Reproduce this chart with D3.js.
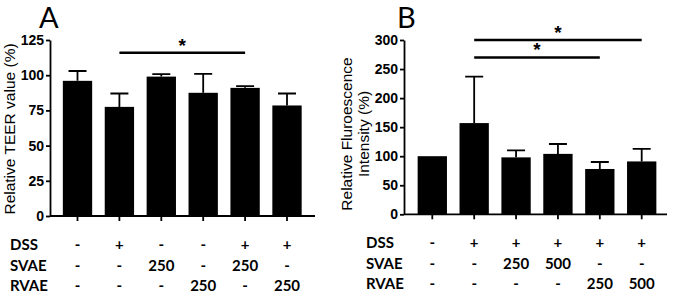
<!DOCTYPE html>
<html>
<head>
<meta charset="utf-8">
<script src="https://cdn.jsdelivr.net/npm/d3@7"></script>
<style>
  body { margin: 0; background: #fff; }
  svg text { fill: #000; }
</style>
</head>
<body>
<div id="chart"></div>
<script>
// panel A: TEER
const dssA = ["-", "+", "-", "-", "+", "+"];
const svaeA = ["-", "-", "250", "-", "250", "-"];
const rvaeA = ["-", "-", "-", "250", "-", "250"];
const teerMean = [96, 77.5, 99, 87.5, 91, 78.5];
const teerSd = [7, 9.5, 1.8, 13.5, 1.3, 8.5];
const teerTicks = [0, 25, 50, 75, 100, 125];

// panel B: fluorescence
const dssB = ["-", "+", "+", "+", "+", "+"];
const svaeB = ["-", "-", "250", "500", "-", "-"];
const rvaeB = ["-", "-", "-", "-", "250", "500"];
const fluoMean = [100, 157, 98, 104, 78, 91];
const fluoSd = [0, 80, 12, 17, 12, 21.5];
const fluoTicks = [0, 50, 100, 150, 200, 250, 300];

// significance brackets: [from, to, level]
const sigA = [[1, 4, 116]];
const sigB = [[1, 5, 300], [1, 4, 270]];

const svg = d3.select("#chart").append("svg")
    .attr("width", 674)
    .attr("height", 295);

const axisFont = "'Liberation Sans', Arial, sans-serif";
const tableFont = "Lato, 'Open Sans', sans-serif";

function panel(opt) {
    const g = svg.append("g");
    const n = opt.mean.length;

    const x = d3.scalePoint()
        .domain(d3.range(n))
        .range(opt.xr);
    const bw = x.step() * 0.7;

    const y = d3.scaleLinear()
        .domain([0, opt.ticks[opt.ticks.length - 1]])
        .range(opt.yr);

    // bars
    g.selectAll(".bar")
        .data(opt.mean)
        .enter().append("rect")
        .attr("class", "bar")
        .attr("x", (d, i) => x(i) - bw / 2)
        .attr("y", d => y(d))
        .attr("width", bw)
        .attr("height", d => y(0) - y(d))
        .style("fill", "#000");

    // error bars
    const err = opt.mean.map((m, i) => ({ i: i, m: m, s: opt.sd[i] })).filter(d => d.s > 0);
    g.selectAll(".err")
        .data(err)
        .enter().append("path")
        .attr("class", "err")
        .attr("d", d => `M${x(d.i)},${y(d.m)}V${y(d.m + d.s)}M${x(d.i) - 9},${y(d.m + d.s)}H${x(d.i) + 9}`)
        .style("stroke", "#000")
        .style("stroke-width", 1.8)
        .style("fill", "none");

    // y axis
    const yAxis = g.append("g")
        .attr("transform", `translate(${opt.axisX},0)`)
        .call(d3.axisLeft(y).tickValues(opt.ticks).tickSize(4).tickPadding(2).tickSizeOuter(0));
    yAxis.selectAll("text")
        .style("font-family", axisFont)
        .style("font-size", "14px")
        .style("font-weight", "bold");
    yAxis.selectAll("path, line").style("stroke-width", 1.8);

    // x axis line with ticks under each bar
    const xAxis = g.append("g")
        .attr("transform", `translate(0,${y(0)})`);
    xAxis.append("line")
        .attr("x1", opt.axisX)
        .attr("x2", opt.axisEnd)
        .style("stroke", "#000")
        .style("stroke-width", 1.8);
    xAxis.selectAll(".xt")
        .data(d3.range(n))
        .enter().append("line")
        .attr("x1", d => x(d))
        .attr("x2", d => x(d))
        .attr("y1", 0)
        .attr("y2", 5)
        .style("stroke", "#000")
        .style("stroke-width", 1.8);

    // significance lines
    opt.sig.forEach(s => {
        const yy = y(s[2]);
        g.append("line")
            .attr("x1", x(s[0]))
            .attr("x2", x(s[1]))
            .attr("y1", yy)
            .attr("y2", yy)
            .style("stroke", "#000")
            .style("stroke-width", 2.5);
        g.append("text")
            .attr("x", (x(s[0]) + x(s[1])) / 2)
            .attr("y", yy - 1)
            .attr("text-anchor", "middle")
            .style("font-family", axisFont)
            .style("font-size", "19px")
            .style("font-weight", "bold")
            .text("*");
    });

    // panel letter
    g.append("text")
        .attr("x", opt.letterX)
        .attr("y", 28)
        .style("font-family", "Lato, 'Open Sans', sans-serif")
        .style("font-size", "29px")
        .text(opt.letter);

    // y label
    const yl = g.append("text")
        .attr("transform", `translate(${opt.labelX},${opt.labelY}) rotate(-90)`)
        .attr("text-anchor", "middle")
        .style("font-family", axisFont)
        .style("font-size", opt.labelSize);
    opt.ylabel.forEach((t, i) => {
        yl.append("tspan")
            .attr("x", 0)
            .attr("dy", i === 0 ? 0 : "1.1em")
            .text(t);
    });

    // treatment table
    const rows = [["DSS", opt.dss], ["SVAE", opt.svae], ["RVAE", opt.rvae]];
    rows.forEach((r, k) => {
        const by = opt.rowY[k];
        g.append("text")
            .attr("x", opt.rowLabelX)
            .attr("y", by)
            .style("font-family", tableFont)
            .style("font-size", "15px")
            .style("font-weight", "bold")
            .text(r[0]);
        g.selectAll(".cell" + k)
            .data(r[1])
            .enter().append("text")
            .attr("x", (d, i) => x(i))
            .attr("y", by)
            .attr("text-anchor", "middle")
            .style("font-family", tableFont)
            .style("font-size", "15px")
            .style("font-weight", "bold")
            .text(d => d);
    });
}

panel({
    letter: "A", letterX: 39,
    mean: teerMean, sd: teerSd, ticks: teerTicks,
    xr: [77.5, 287], yr: [216, 40],
    axisX: 50, axisEnd: 315,
    sig: sigA,
    ylabel: ["Relative TEER value  (%)"], labelX: 15, labelY: 129, labelSize: "15.5px",
    dss: dssA, svae: svaeA, rvae: rvaeA,
    rowLabelX: 10, rowY: [250, 271, 291]
});

panel({
    letter: "B", letterX: 397,
    mean: fluoMean, sd: fluoSd, ticks: fluoTicks,
    xr: [432.3, 641.7], yr: [214.3, 40],
    axisX: 404, axisEnd: 667,
    sig: sigB,
    ylabel: ["Relative Fluroescence", "Intensity (%)"], labelX: 352, labelY: 134, labelSize: "15.5px",
    dss: dssB, svae: svaeB, rvae: rvaeB,
    rowLabelX: 366, rowY: [248, 269, 289]
});
</script>
</body>
</html>
